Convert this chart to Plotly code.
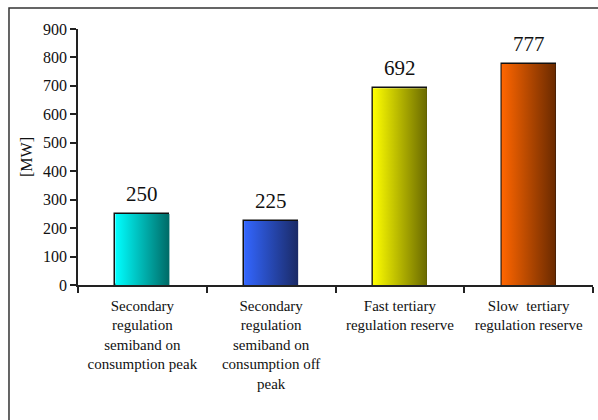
import plotly.graph_objects as go

categories = [
    "Secondary<br>regulation<br>semiband on<br>consumption peak",
    "Secondary<br>regulation<br>semiband on<br>consumption off<br>peak",
    "Fast tertiary<br>regulation reserve",
    "Slow  tertiary<br>regulation reserve",
]
values = [250, 225, 692, 777]
light_colors = ["#00ffff", "#3366ff", "#ffff00", "#ff6600"]
dark_colors = ["#006a66", "#1a2a66", "#6a6a00", "#6a2a00"]
y_ticks = [0, 100, 200, 300, 400, 500, 600, 700, 800, 900]

FONT = "Liberation Serif, serif"
BAR_W = 0.42

fig = go.Figure()
positions = list(range(len(values)))

for i, v in enumerate(values):
    xs = [i - BAR_W / 2, i + BAR_W / 2, i + BAR_W / 2, i - BAR_W / 2, i - BAR_W / 2]
    ys = [0, 0, v, v, 0]
    fig.add_trace(go.Scatter(
        x=xs, y=ys, mode="lines", fill="toself",
        fillgradient=dict(type="horizontal",
                          colorscale=[[0, light_colors[i]], [1, dark_colors[i]]]),
        line=dict(color="rgba(0,0,0,0)", width=0),
        hoverinfo="skip", showlegend=False,
    ))

fig.add_trace(go.Bar(
    x=positions, y=values, width=BAR_W,
    marker=dict(color="rgba(0,0,0,0)", line=dict(color="#111111", width=1.5)),
    showlegend=False,
))

for i, v in enumerate(values):
    fig.add_annotation(x=i, y=v, text=str(v), showarrow=False,
                       yanchor="bottom", yshift=6,
                       font=dict(family=FONT, size=21, color="#111111"))

fig.add_shape(type="rect", xref="paper", yref="paper",
              x0=-0.134, x1=1.05, y0=-0.7, y1=1.082,
              line=dict(color="#333333", width=1.5), layer="below")

fig.update_layout(
    width=598, height=420,
    margin=dict(l=78, r=5, t=29, b=135),
    paper_bgcolor="white", plot_bgcolor="white",
    font=dict(family=FONT, size=15, color="#111111"),
    bargap=0,
)
fig.update_xaxes(
    range=[-0.5, len(values) - 0.5],
    tickmode="array", tickvals=positions, ticktext=categories,
    ticks="", showgrid=False, zeroline=False,
    showline=True, linecolor="#222222", linewidth=1.5,
    tickfont=dict(family=FONT, size=15, color="#111111"),
    ticklabelstandoff=6,
    minor=dict(tickmode="array", tickvals=[p - 0.5 for p in positions] + [len(values) - 0.5],
               ticks="outside", ticklen=6, tickcolor="#222222", tickwidth=1.5, showgrid=False),
    fixedrange=True,
)
fig.update_yaxes(
    range=[0, 900], tickmode="array", tickvals=y_ticks,
    ticks="outside", ticklen=6, tickcolor="#222222", tickwidth=1.5,
    showline=True, linecolor="#222222", linewidth=1.5,
    showgrid=False, zeroline=False,
    tickfont=dict(family=FONT, size=16, color="#111111"),
    title=dict(text="[MW]", font=dict(family=FONT, size=16, color="#111111"), standoff=6),
    fixedrange=True,
)

fig.write_html("out.html", config={"displayModeBar": False},
               post_script="document.body.style.margin='0';document.body.style.padding='0';")
